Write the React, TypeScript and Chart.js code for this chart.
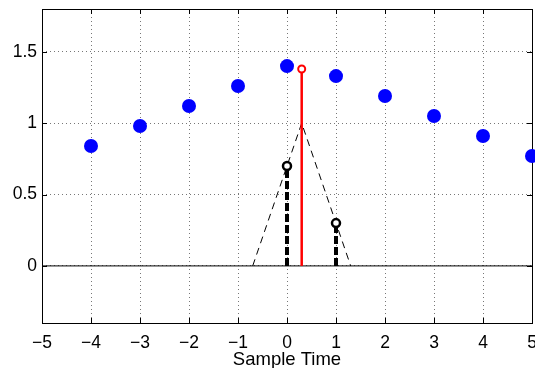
import React, { useEffect, useRef } from "react";
import { Chart, registerables } from "chart.js";

Chart.register(...registerables);

const sampleTimes = [-4, -3, -2, -1, 0, 1, 2, 3, 4, 5];
const sampleValues = [0.84, 0.98, 1.12, 1.26, 1.4, 1.33, 1.19, 1.05, 0.91, 0.77];
const kernelTimes = [-0.7, 0.3, 1.3];
const kernelValues = [0, 1, 0];
const weightTimes = [0, 1];
const weightValues = [0.7, 0.3];
const interpTime = 0.3;
const interpValue = 1.38;
const xRange = [-5, 5];
const yRange = [-0.4, 1.8];
const yTickValues = [0, 0.5, 1, 1.5];

const FONT = "'Liberation Sans', Arial, Helvetica, sans-serif";

const boxPlugin = {
  id: "boxPlugin",
  beforeDatasetsDraw(chart: any) {
    const { ctx, chartArea: a, scales } = chart;
    ctx.save();
    ctx.strokeStyle = "#000";
    ctx.lineWidth = 1;
    ctx.setLineDash([]);
    ctx.strokeRect(Math.round(a.left) + 0.5, Math.round(a.top) + 0.5, Math.round(a.right - a.left), Math.round(a.bottom - a.top));
    const tl = 5;
    ctx.beginPath();
    for (let v = xRange[0]; v <= xRange[1]; v++) {
      const x = Math.round(scales.x.getPixelForValue(v)) + 0.5;
      ctx.moveTo(x, a.bottom);
      ctx.lineTo(x, a.bottom - tl);
      ctx.moveTo(x, a.top);
      ctx.lineTo(x, a.top + tl);
    }
    for (const v of yTickValues) {
      const y = Math.round(scales.y.getPixelForValue(v)) + 0.5;
      ctx.moveTo(a.left, y);
      ctx.lineTo(a.left + tl, y);
      ctx.moveTo(a.right, y);
      ctx.lineTo(a.right - tl, y);
    }
    ctx.stroke();
    ctx.restore();
  },
};

const fmt = (v: number) => (v < 0 ? "\u2212" + Math.abs(v) : String(v));

const zeroPad = (s: any) => {
  s.paddingLeft = 0;
  s.paddingRight = 0;
  s.paddingTop = 0;
  s.paddingBottom = 0;
};

export default function App() {
  const ref = useRef<HTMLCanvasElement>(null);
  useEffect(() => {
    document.body.style.margin = "0";
    const pts = (xs: number[], ys: number[]) => xs.map((x, i) => ({ x, y: ys[i] }));
    const chart = new Chart(ref.current!, {
      type: "scatter",
      data: {
        datasets: [
          {
            data: pts(sampleTimes, sampleValues),
            pointRadius: 7,
            pointBackgroundColor: "#0000ff",
            pointBorderColor: "#0000ff",
            borderWidth: 0,
            showLine: false,
            clip: false,
          } as any,
          {
            data: [{ x: interpTime, y: interpValue }],
            pointRadius: 3.5,
            pointBorderWidth: 2,
            pointBackgroundColor: "#fff",
            pointBorderColor: "#ff0000",
            showLine: false,
          },
          {
            data: [{ x: interpTime, y: 0 }, { x: interpTime, y: interpValue }],
            showLine: true,
            borderColor: "#ff0000",
            borderWidth: 2.5,
            pointRadius: 0,
          },
          {
            data: pts(weightTimes, weightValues),
            pointRadius: 4,
            pointBorderWidth: 2.5,
            pointBackgroundColor: "#fff",
            pointBorderColor: "#000",
            showLine: false,
          },
          ...weightTimes.map((t, i) => ({
            data: [{ x: t, y: 0 }, { x: t, y: weightValues[i] }],
            showLine: true,
            borderColor: "#000",
            borderWidth: 4,
            borderDash: [8, 3],
            pointRadius: 0,
          })),
          {
            data: pts(kernelTimes, kernelValues),
            showLine: true,
            borderColor: "#000",
            borderWidth: 1,
            borderDash: [7, 5],
            pointRadius: 0,
          },
          {
            data: [{ x: xRange[0], y: 0 }, { x: xRange[1], y: 0 }],
            showLine: true,
            borderColor: "#000",
            borderWidth: 1,
            pointRadius: 0,
          },
        ],
      },
      options: {
        animation: false,
        responsive: false,
        layout: { autoPadding: false, padding: { top: 9, right: 3, left: 0, bottom: 0 } },
        plugins: { legend: { display: false }, tooltip: { enabled: false } },
        scales: {
          x: {
            type: "linear",
            min: xRange[0],
            max: xRange[1],
            afterFit: (s: any) => { s.height = 45; zeroPad(s); },
            ticks: { stepSize: 1, color: "#000", font: { family: FONT, size: 17.5 }, padding: 10, callback: (v: any) => fmt(Number(v)), maxRotation: 0 },
            grid: { color: "#777", drawTicks: false, tickLength: 0 } as any,
            border: { display: false, dash: [1, 3] } as any,
            title: { display: true, text: "Sample Time", color: "#000", font: { family: FONT, size: 18.5, lineHeight: 0.83 }, padding: { top: 0, bottom: 0 } },
          },
          y: {
            type: "linear",
            min: yRange[0],
            max: yRange[1],
            afterFit: (s: any) => { s.width = 42; zeroPad(s); },
            afterBuildTicks: (s: any) => { s.ticks = yTickValues.map((v) => ({ value: v })); },
            ticks: { color: "#000", font: { family: FONT, size: 17.5 }, padding: 5, callback: (v: any) => fmt(Number(v)) },
            grid: { color: "#777", drawTicks: false, tickLength: 0 } as any,
            border: { display: false, dash: [1, 3] } as any,
          },
        },
      },
      plugins: [boxPlugin],
    });
    return () => chart.destroy();
  }, []);
  return (
    <div style={{ position: "absolute", left: 0, top: 0, width: 535, height: 368 }}>
      <canvas ref={ref} width={535} height={368} />
    </div>
  );
}
